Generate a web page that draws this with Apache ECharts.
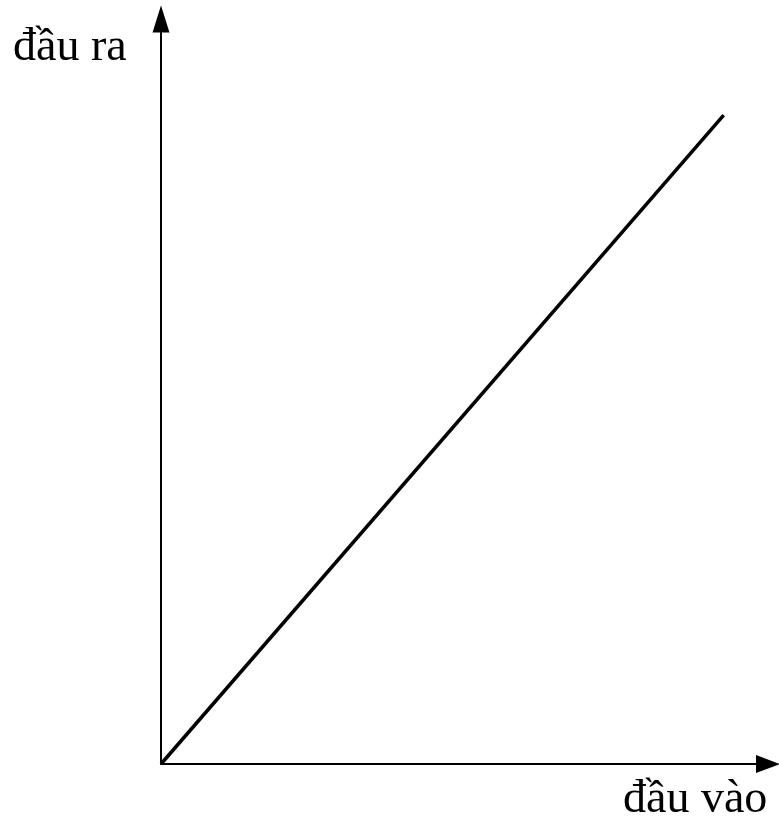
<!DOCTYPE html>
<html>
<head>
<meta charset="utf-8">
<script src="https://cdn.jsdelivr.net/npm/echarts@6/dist/echarts.min.js"></script>
<style>
  html, body { margin: 0; padding: 0; background: #fff; }
  #chart { width: 779px; height: 826px; }
</style>
</head>
<body>
<div id="chart"></div>
<script>
"use strict";

// dau vao -> dau ra, a straight line from the origin
var inputValues = [0, 92.7];
var outputValues = [0, 87.1];
var xLabel = 'đầu vào';
var yLabel = 'đầu ra';

var points = inputValues.map(function(v, i) { return [v, outputValues[i]]; });

var hiddenAxis = function(arrowSize) {
  return {
    type: 'value',
    min: 0,
    max: 100,
    axisLine: {
      show: true,
      symbol: ['none', 'triangle'],
      symbolSize: arrowSize,
      lineStyle: { color: '#000', width: 2 }
    },
    axisTick: { show: false },
    axisLabel: { show: false },
    splitLine: { show: false }
  };
};

var label = function(text, x, y) {
  return {
    type: 'text',
    x: x,
    y: y,
    style: {
      text: text,
      font: '46px "Liberation Serif"',
      fill: '#000',
      textAlign: 'left',
      textVerticalAlign: 'middle'
    }
  };
};

var chart = echarts.init(document.getElementById('chart'));
chart.setOption({
  animation: false,
  grid: { left: 161, right: 11, top: 19, bottom: 62 },
  xAxis: hiddenAxis([18, 24]),
  yAxis: hiddenAxis([17, 27]),
  series: [{
    type: 'line',
    data: points,
    showSymbol: false,
    lineStyle: { color: '#000', width: 3.5 }
  }],
  graphic: [
    label(yLabel, 13, 48),
    label(xLabel, 623, 800)
  ]
});
</script>
</body>
</html>
